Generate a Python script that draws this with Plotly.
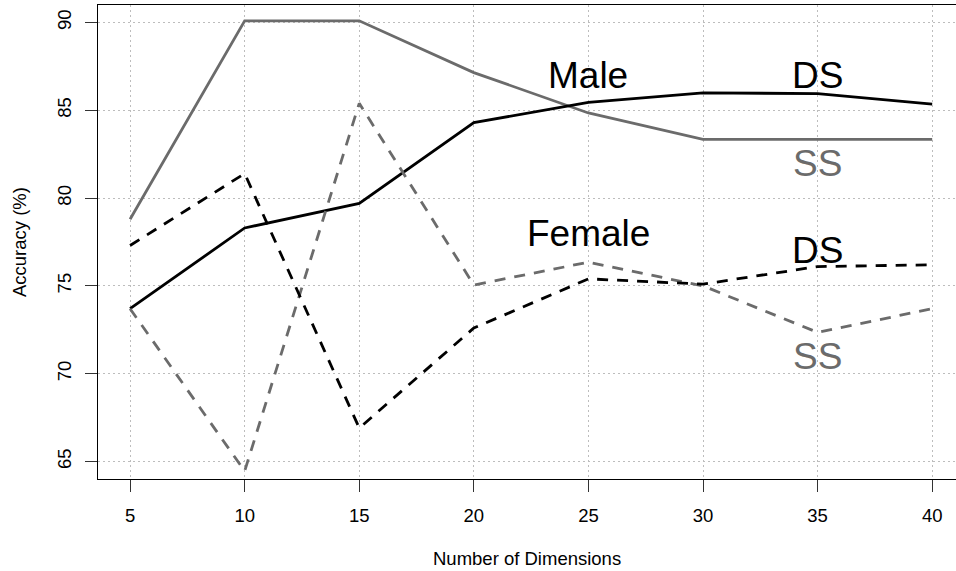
import plotly.graph_objects as go

dims = [5, 10, 15, 20, 25, 30, 35, 40]
male_ds = [73.7, 78.3, 79.7, 84.3, 85.45, 86.0, 85.95, 85.35]
male_ss = [78.8, 90.1, 90.1, 87.15, 84.85, 83.35, 83.35, 83.35]
female_ds = [77.3, 81.4, 66.9, 72.6, 75.4, 75.1, 76.1, 76.2]
female_ss = [73.7, 64.45, 85.4, 75.05, 76.35, 75.0, 72.35, 73.7]

x_ticks = [5, 10, 15, 20, 25, 30, 35, 40]
y_ticks = [65, 70, 75, 80, 85, 90]

label_text = ["Male", "DS", "SS", "Female", "DS", "SS"]
label_x = [25, 35, 35, 25, 35, 35]
label_y = [87, 87, 82, 78, 77, 71]
label_gray = [False, False, True, False, False, True]

BLACK = "#000000"
GRAY = "#6b6b6b"
FONT = "Liberation Sans"

fig = go.Figure()
series = [
    (male_ss, GRAY, "solid"),
    (male_ds, BLACK, "solid"),
    (female_ss, GRAY, "11px,9px"),
    (female_ds, BLACK, "11px,9px"),
]
for ys, col, dash in series:
    fig.add_trace(go.Scatter(x=dims, y=ys, mode="lines",
                             line=dict(color=col, width=2.8, dash=dash),
                             showlegend=False, hoverinfo="skip"))

for t, xx, yy, g in zip(label_text, label_x, label_y, label_gray):
    fig.add_annotation(x=xx, y=yy, xref="x", yref="y", text=t, showarrow=False,
                       font=dict(family=FONT, size=37, color=GRAY if g else BLACK),
                       xanchor="center", yanchor="middle")

fig.add_annotation(x=0.5, y=-0.167, xref="paper", yref="paper",
                   text="Number of Dimensions", showarrow=False,
                   font=dict(family=FONT, size=18.5, color=BLACK),
                   xanchor="center", yanchor="middle")
fig.add_annotation(x=-0.092, y=0.5, xref="paper", yref="paper",
                   text="Accuracy (%)", showarrow=False, textangle=-90,
                   font=dict(family=FONT, size=18.5, color=BLACK),
                   xanchor="center", yanchor="middle")

fig.update_layout(
    width=956, height=571,
    margin=dict(l=98, r=0, t=5, b=92),
    paper_bgcolor="white", plot_bgcolor="white",
    font=dict(family=FONT, size=18.5, color=BLACK),
    xaxis=dict(range=[3.6, 41.04], tickvals=x_ticks, ticks="outside", ticklen=12,
               tickwidth=1.2, tickcolor="#333333", showline=True, linecolor=BLACK,
               linewidth=1.4, mirror=True, showgrid=True, gridcolor="#bdbdbd",
               griddash="1.5px,3.5px", gridwidth=1, zeroline=False,
               ticklabelstandoff=8,
               tickfont=dict(family=FONT, size=18.5, color=BLACK)),
    yaxis=dict(range=[64, 91], tickvals=y_ticks, ticks="outside", ticklen=12,
               tickwidth=1.2, tickcolor="#333333", showline=True, linecolor=BLACK,
               linewidth=1.4, mirror=False, showgrid=True, gridcolor="#bdbdbd",
               griddash="1.5px,3.5px", gridwidth=1, zeroline=False, tickangle=-90,
               ticklabelstandoff=6,
               tickfont=dict(family=FONT, size=18.5, color=BLACK)),
)

fig.write_html("out.html")
